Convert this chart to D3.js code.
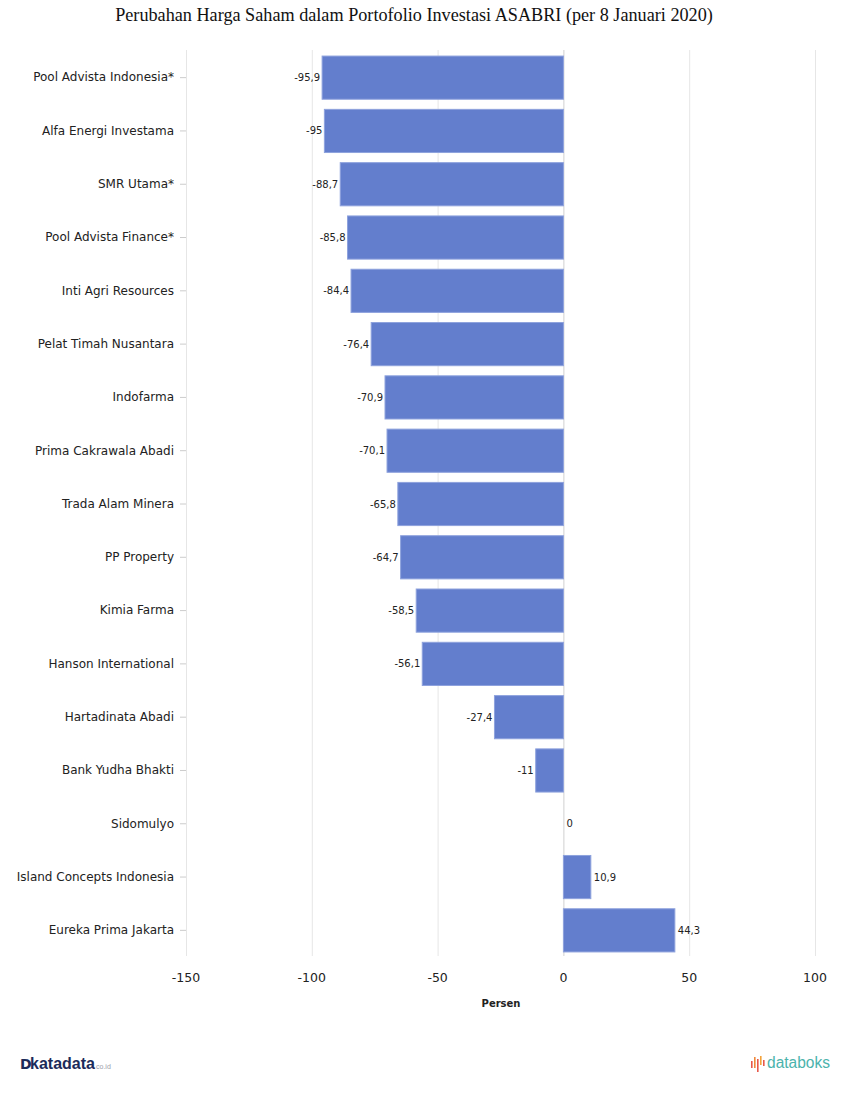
<!DOCTYPE html>
<html>
<head>
<meta charset="utf-8">
<script src="https://cdn.jsdelivr.net/npm/d3@7"></script>
<style>
  body { margin: 0; background: #fff; }
</style>
</head>
<body>
<div id="chart"></div>
<script>
const categories = [
  "Pool Advista Indonesia*", "Alfa Energi Investama", "SMR Utama*", "Pool Advista Finance*",
  "Inti Agri Resources", "Pelat Timah Nusantara", "Indofarma", "Prima Cakrawala Abadi",
  "Trada Alam Minera", "PP Property", "Kimia Farma", "Hanson International",
  "Hartadinata Abadi", "Bank Yudha Bhakti", "Sidomulyo", "Island Concepts Indonesia",
  "Eureka Prima Jakarta"
];
const values = [-95.9, -95, -88.7, -85.8, -84.4, -76.4, -70.9, -70.1, -65.8, -64.7, -58.5, -56.1, -27.4, -11, 0, 10.9, 44.3];
const xTicks = [-150, -100, -50, 0, 50, 100];

const W = 851, H = 1115;
const plotLeft = 186, plotRight = 815, plotTop = 51, plotBottom = 957;

const svg = d3.select("#chart")
    .append("svg")
    .attr("width", W)
    .attr("height", H);

const x = d3.scaleLinear().domain([-150, 100]).range([plotLeft, plotRight]);
const y = d3.scaleBand().domain(categories).range([plotTop, plotBottom]).paddingInner(0.19).paddingOuter(0.095);

const fmt = v => String(v).replace(".", ",");

// title
svg.append("text")
    .attr("x", 414)
    .attr("y", 21)
    .attr("text-anchor", "middle")
    .attr("font-family", "Liberation Serif, serif")
    .attr("font-size", 18.2)
    .attr("fill", "#111")
    .text("Perubahan Harga Saham dalam Portofolio Investasi ASABRI (per 8 Januari 2020)");

// gridlines
svg.append("g")
    .selectAll("line")
    .data(xTicks)
    .join("line")
    .attr("x1", d => x(d) + 0.5)
    .attr("x2", d => x(d) + 0.5)
    .attr("y1", plotTop - 1)
    .attr("y2", plotBottom - 1)
    .attr("stroke", d => d === 0 ? "#d0d0d0" : "#e6e6e6")
    .attr("stroke-width", 1);

// x axis labels
svg.append("g")
    .selectAll("text")
    .data(xTicks)
    .join("text")
    .attr("x", d => x(d))
    .attr("y", 982)
    .attr("text-anchor", "middle")
    .attr("font-family", "DejaVu Sans, sans-serif")
    .attr("font-size", 12.5)
    .attr("fill", "#222")
    .text(d => d);

svg.append("text")
    .attr("x", 501)
    .attr("y", 1007)
    .attr("text-anchor", "middle")
    .attr("font-family", "DejaVu Sans, sans-serif")
    .attr("font-size", 10)
    .attr("font-weight", "bold")
    .attr("fill", "#222")
    .text("Persen");

// y axis with small ticks
const yAxis = svg.append("g")
    .attr("transform", `translate(${plotLeft},0)`)
    .call(d3.axisLeft(y).tickSize(6).tickPadding(6));
yAxis.select(".domain").remove();
yAxis.selectAll(".tick line").attr("stroke", "#ccc");
yAxis.selectAll(".tick text")
    .attr("font-family", "DejaVu Sans, sans-serif")
    .attr("font-size", 12)
    .attr("fill", "#222");

// bars
svg.append("g")
    .selectAll("rect")
    .data(values)
    .join("rect")
    .attr("x", d => x(Math.min(0, d)))
    .attr("y", (d, i) => y(categories[i]))
    .attr("width", d => Math.abs(x(d) - x(0)))
    .attr("height", y.bandwidth())
    .attr("fill", "#637ecd")
    .attr("stroke", d => d === 0 ? "none" : "#8ea2dd")
    .attr("stroke-width", 1);

// value labels
svg.append("g")
    .selectAll("text")
    .data(values)
    .join("text")
    .attr("x", d => d < 0 ? x(d) - 2 : x(d) + 3)
    .attr("y", (d, i) => y(categories[i]) + y.bandwidth() / 2)
    .attr("dy", "0.35em")
    .attr("text-anchor", d => d < 0 ? "end" : "start")
    .attr("font-family", "DejaVu Sans, sans-serif")
    .attr("font-size", 10)
    .attr("fill", "#222")
    .text(d => fmt(d));

// katadata logo
const kata = svg.append("g").attr("transform", "translate(20,1060)");
kata.append("text")
    .attr("x", 0).attr("y", 9)
    .attr("font-family", "DejaVu Sans, sans-serif")
    .attr("font-weight", "bold")
    .attr("font-size", 14)
    .attr("fill", "#1c2b5a")
    .text("D");
kata.append("text")
    .attr("x", 10).attr("y", 9)
    .attr("font-family", "Liberation Sans Narrow, Liberation Sans, sans-serif")
    .attr("font-weight", "bold")
    .attr("font-size", 16)
    .attr("fill", "#1c2b5a")
    .attr("textLength", 65)
    .attr("lengthAdjust", "spacingAndGlyphs")
    .text("katadata");
kata.append("text")
    .attr("x", 76).attr("y", 9)
    .attr("font-family", "Liberation Sans, sans-serif")
    .attr("font-size", 7)
    .attr("fill", "#9aa0aa")
    .text("co.id");

// databoks logo
const boks = svg.append("g").attr("transform", "translate(751,1056)");
const barsIcon = [[0, 5, 7, "#e8584a"], [3, 1, 11, "#f08a3c"], [6, 3, 13, "#e8584a"], [9, 0, 9, "#f3a33a"], [12, 4, 6, "#e8584a"]];
boks.selectAll("rect")
    .data(barsIcon)
    .join("rect")
    .attr("x", d => d[0])
    .attr("y", d => d[1])
    .attr("width", 1.6)
    .attr("height", d => d[2])
    .attr("fill", d => d[3]);
boks.append("text")
    .attr("x", 16).attr("y", 12)
    .attr("font-family", "Liberation Sans Narrow, Liberation Sans, sans-serif")
    .attr("font-size", 16)
    .attr("fill", "#4bb3ac")
    .attr("textLength", 63)
    .attr("lengthAdjust", "spacingAndGlyphs")
    .text("databoks");
</script>
</body>
</html>
